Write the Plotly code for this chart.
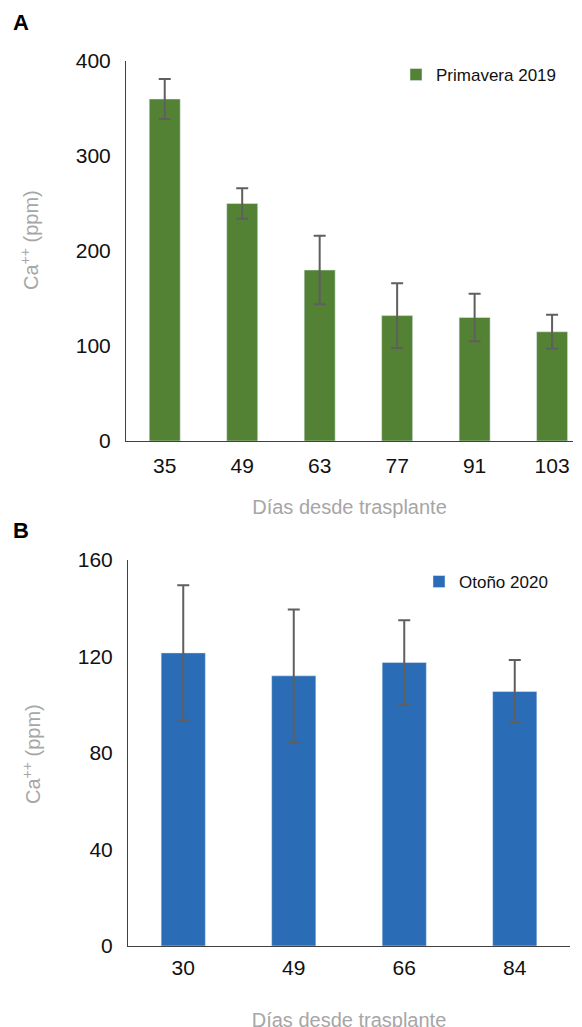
import plotly.graph_objects as go

W, H = 582, 1027
OFF = 8  # page body margin offset

# Panel A data
days_a = ["35", "49", "63", "77", "91", "103"]
ca_a = [360, 250, 180, 132, 130, 115]
err_a = [21, 16, 36, 34, 25, 18]

# Panel B data
days_b = ["30", "49", "66", "84"]
ca_b = [121.5, 112, 117.5, 105.5]
err_b = [28, 27.5, 17.5, 13]

GREEN = "#548235"
BLUE = "#2a6cb5"
ERR = "#5f5f5f"
GRAY = "#a6a6a6"
FONT = "Liberation Sans, Arial, sans-serif"
YTITLE = "Ca<sup>++</sup> (ppm)"
XTITLE = "Días desde trasplante"

def px_x(p):
    return (p - OFF) / W

def px_y(p):
    return 1 - (p - OFF) / H

fig = go.Figure()
fig.add_trace(go.Bar(
    x=days_a, y=ca_a, name="Primavera 2019", marker_color=GREEN, width=0.4,
    error_y=dict(type="data", array=err_a, color=ERR, thickness=2, width=6),
    xaxis="x", yaxis="y", legend="legend",
))
fig.add_trace(go.Bar(
    x=days_b, y=ca_b, name="Otoño 2020", marker_color=BLUE, width=0.4,
    error_y=dict(type="data", array=err_b, color=ERR, thickness=2, width=6),
    xaxis="x2", yaxis="y2", legend="legend2",
))

axis_common = dict(
    showgrid=False, zeroline=False, showline=True, linecolor="#404040", linewidth=1,
    ticks="", automargin=False, tickfont=dict(family=FONT, size=21, color="#111111"),
)
def xtitle(standoff):
    return dict(text=XTITLE, font=dict(family=FONT, size=20, color=GRAY), standoff=standoff)

def ytitle_ann(xc, yc):
    return dict(text=YTITLE, x=px_x(xc), y=px_y(yc), xref="paper", yref="paper",
                xanchor="center", yanchor="middle", textangle=-90, showarrow=False,
                font=dict(family=FONT, size=20, color=GRAY))

fig.update_layout(
    width=W, height=H,
    margin=dict(l=0, r=0, t=0, b=0, autoexpand=False),
    paper_bgcolor="white", plot_bgcolor="white",
    showlegend=True,
    xaxis=dict(domain=[px_x(126), px_x(573)], anchor="y", range=[-0.5, 5.27],
               type="category", title=xtitle(23), ticklabelstandoff=6, **axis_common),
    yaxis=dict(domain=[px_y(441), px_y(61)], anchor="x", range=[0, 400], dtick=100,
               ticklabelstandoff=10, **axis_common),
    xaxis2=dict(domain=[px_x(128), px_x(570)], anchor="y2", range=[-0.5, 3.5],
                type="category", title=xtitle(34), ticklabelstandoff=3, **axis_common),
    yaxis2=dict(domain=[px_y(946), px_y(560)], anchor="x2", range=[0, 160], dtick=40,
                ticklabelstandoff=10, **axis_common),
    legend=dict(x=px_x(396), y=px_y(75), xanchor="left", yanchor="middle",
                font=dict(family=FONT, size=17, color="#111111"), bgcolor="rgba(0,0,0,0)"),
    legend2=dict(x=px_x(419), y=px_y(582), xanchor="left", yanchor="middle",
                 font=dict(family=FONT, size=17, color="#111111"), bgcolor="rgba(0,0,0,0)"),
    annotations=[
        dict(text="<b>A</b>", x=px_x(11), y=px_y(22), xref="paper", yref="paper",
             xanchor="left", yanchor="middle", showarrow=False,
             font=dict(family=FONT, size=22, color="black")),
        dict(text="<b>B</b>", x=px_x(11), y=px_y(530), xref="paper", yref="paper",
             xanchor="left", yanchor="middle", showarrow=False,
             font=dict(family=FONT, size=22, color="black")),
        ytitle_ann(29, 240),
        ytitle_ann(31, 754),
    ],
)

fig.write_html("out.html")
